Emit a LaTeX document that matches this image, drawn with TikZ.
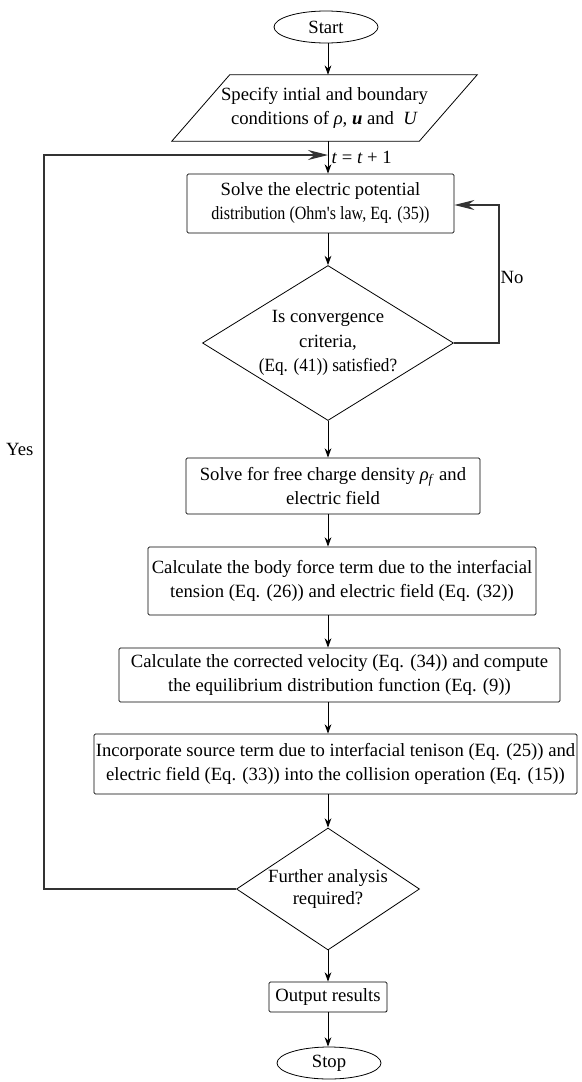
\documentclass[tikz,border=0pt]{standalone}
\usepackage{fontspec}
\setmainfont{Liberation Serif}
\usetikzlibrary{arrows.meta,shapes.geometric,calc}
\newlength{\pxu}
\setlength{\pxu}{0.75pt}
\tikzset{
	blk/.style={draw, line width=0.6pt, align=center, inner sep=1pt,
		font=\fontsize{14}{18}\selectfont},
	proc/.style={blk, rounded corners=1pt},
	term/.style={blk, ellipse, minimum width=104\pxu, minimum height=32\pxu},
	dec/.style={blk, diamond, inner sep=0pt},
	txt/.style={font=\fontsize{14}{18}\selectfont, inner sep=1pt, align=center},
	flow/.style={line width=0.6pt, -{Stealth[length=7pt, width=5pt]}},
	back/.style={line width=0.8pt, black!80, -{Stealth[length=15pt, width=7.5pt, inset=5pt]}},
}

\begin{document}
\begin{tikzpicture}[x=0.75pt, y=-0.75pt]
	\useasboundingbox (0,0) rectangle (582,1082);
	\coordinate (axis) at (328,0);
	% terminals, boxes and decisions
	\node[term] at (326,27) (start) {Start};
	\node[txt, minimum width=247\pxu, minimum height=66\pxu] at (324.5,108) (spec) {Specify intial and boundary\\conditions of \textit{ρ}, \textbf{\textit{u}} and~ \textit{U}};
	\draw[line width=0.6pt] ($(spec.south west)+(-29,0)$) -- ($(spec.south east)+(-29,0)$)
		-- ($(spec.north east)+(29,0)$) -- ($(spec.north west)+(29,0)$) -- cycle;
	\node[proc, minimum width=267\pxu, minimum height=59\pxu] at (320.5,203.5) (pot) {Solve the electric potential\\\scalebox{0.86}[1]{distribution (Ohm\textquotesingle s law, Eq. (35))}};
	\node[dec, minimum width=251\pxu, minimum height=155\pxu,
		label={[txt, font=\fontsize{14}{18.5}\selectfont]center:Is convergence\\criteria,\\\scalebox{0.92}[1]{(Eq. (41)) satisfied?}}] at (328,343) (conv) {};
	\node[proc, minimum width=294\pxu, minimum height=56\pxu] at (333,486) (chg) {Solve for free charge density \textit{ρ}\textsubscript{\textit{f}} and\\electric field};
	\node[proc, minimum width=388\pxu, minimum height=68\pxu] at (342,581) (frc) {Calculate the body force term due to the interfacial\\tension (Eq. (26)) and electric field (Eq. (32))};
	\node[proc, minimum width=441\pxu, minimum height=54\pxu] at (339.5,675) (vel) {Calculate the corrected velocity (Eq. (34)) and compute\\the equilibrium distribution function (Eq. (9))};
	\node[proc, minimum width=483\pxu, minimum height=60\pxu] at (335.5,764) (src) {Incorporate source term due to interfacial tenison (Eq. (25)) and\\electric field (Eq. (33)) into the collision operation (Eq. (15))};
	\node[dec, minimum width=183\pxu, minimum height=122\pxu,
		label={[txt, font=\fontsize{14}{16}\selectfont]center:Further analysis\\required?}] at (328,889) (more) {};
	\node[proc, minimum width=118\pxu, minimum height=30\pxu] at (328,997) (res) {Output results};
	\node[term] at (329,1063) (stop) {Stop};
	% main flow
	\draw[flow] (start.south -| axis) -- (spec.north -| axis);
	\draw[flow] (spec.south -| axis) -- (pot.north -| axis);
	\draw[flow] (pot.south -| axis) -- (conv.north);
	\draw[flow] (conv.south) -- (chg.north -| axis);
	\draw[flow] (chg.south -| axis) -- (frc.north -| axis);
	\draw[flow] (frc.south -| axis) -- (vel.north -| axis);
	\draw[flow] (vel.south -| axis) -- (src.north -| axis);
	\draw[flow] (src.south -| axis) -- (more.north);
	\draw[flow] (more.south) -- (res.north);
	\draw[flow] (res.south) -- (res.south |- stop.north);
	% loops
	\coordinate (nr) at (499,205);
	\coordinate (ret) at (44,155);
	\coordinate (tin) at (328,155);
	\draw[back] (conv.east) -| (nr) -- (nr -| pot.east);
	\draw[back] (more.west) -| (ret) -- (tin);
	\node[txt, anchor=west] at (499,277) (no) {No};
	\node[txt, anchor=east] at (35,449) (yes) {Yes};
	\node[txt, anchor=west] at (330,157) (tlab) {\textit{t} = \textit{t} + 1};
\end{tikzpicture}
\end{document}
